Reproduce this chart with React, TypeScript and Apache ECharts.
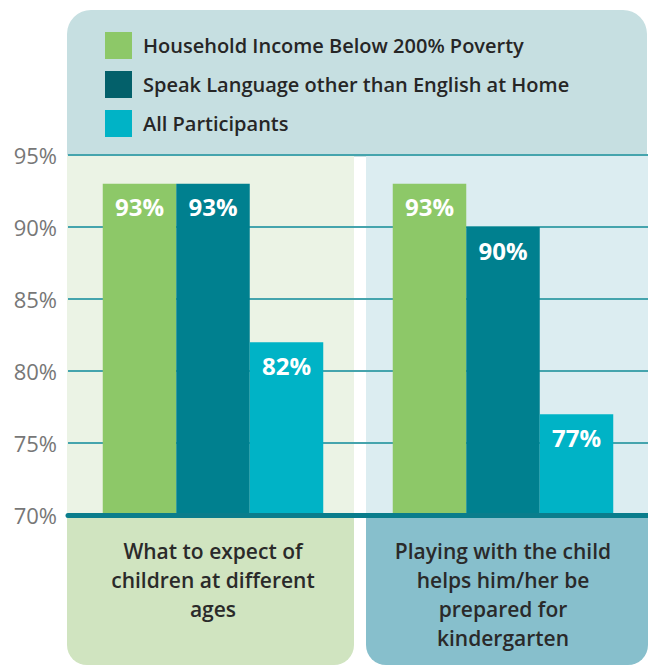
import React, { useEffect, useRef } from "react";
import * as echarts from "echarts";

const categories = [
  "What to expect of\nchildren at different\nages",
  "Playing with the child\nhelps him/her be\nprepared for\nkindergarten",
];
const seriesNames = [
  "Household Income Below 200% Poverty",
  "Speak Language other than English at Home",
  "All Participants",
];
const incomeValues = [93, 93];
const languageValues = [93, 90];
const allValues = [82, 77];
const yTicks = { min: 70, max: 95, interval: 5 };

const barColors = ["#8dc868", "#00808f", "#00b3c6"];
const legendColors = ["#8dc868", "#03606a", "#00b3c6"];
const FONT = "Open Sans";

export default function App() {
  const ref = useRef<HTMLDivElement>(null);
  useEffect(() => {
    if (!ref.current) return;
    const chart = echarts.init(ref.current, undefined, { renderer: "svg" });
    const values = [incomeValues, languageValues, allValues];
    chart.setOption({
      animation: false,
      textStyle: { fontFamily: FONT },
      graphic: [
        { type: "rect", z: -1, shape: { x: 67, y: 10, width: 580, height: 147, r: [24, 24, 0, 0] }, style: { fill: "#c6dfe1" } },
        { type: "rect", z: -1, shape: { x: 67, y: 155, width: 287, height: 360 }, style: { fill: "#ebf3e5" } },
        { type: "rect", z: -1, shape: { x: 366, y: 155, width: 290, height: 360 }, style: { fill: "#dcedf1" } },
        { type: "rect", z: -1, shape: { x: 67, y: 516, width: 287, height: 149, r: [0, 0, 20, 20] }, style: { fill: "#d0e4c0" } },
        { type: "rect", z: -1, shape: { x: 366, y: 516, width: 282, height: 149, r: [0, 0, 20, 20] }, style: { fill: "#87bfcc" } },
      ],
      legend: {
        orient: "vertical",
        left: 105,
        top: 32,
        padding: 0,
        itemWidth: 27,
        itemHeight: 27,
        itemGap: 12,
        icon: "rect",
        selectedMode: false,
        textStyle: { fontFamily: FONT, fontSize: 20, fontWeight: 600, color: "#262626", padding: [0, 0, 0, 6] },
        data: seriesNames.map((n, i) => ({ name: n, itemStyle: { color: legendColors[i] } })),
      },
      grid: { left: 68, right: -4, top: 155, bottom: 151, containLabel: false },
      xAxis: {
        type: "category",
        data: categories,
        z: 3,
        axisLine: { show: true, lineStyle: { color: "#0a7d8c", width: 5 } },
        axisTick: { show: false },
        axisLabel: {
          color: "#2a2a2a",
          fontFamily: FONT,
          fontSize: 21,
          fontWeight: 600,
          lineHeight: 29,
          margin: 21,
          interval: 0,
        },
      },
      yAxis: {
        type: "value",
        min: yTicks.min,
        max: yTicks.max,
        interval: yTicks.interval,
        axisLine: { show: false },
        axisTick: { show: false },
        axisLabel: { formatter: "{value}%", color: "#777777", fontFamily: FONT, fontSize: 22, margin: 11 },
        splitLine: { lineStyle: { color: "#45a4ad", width: 2 } },
      },
      series: seriesNames.map((n, i) => ({
        name: n,
        type: "bar",
        data: values[i],
        barWidth: 73.5,
        barGap: "0%",
        itemStyle: { color: barColors[i] },
        label: {
          show: true,
          position: "insideTop",
          distance: 11,
          formatter: "{c}%",
          color: "#ffffff",
          fontFamily: FONT,
          fontSize: 24,
          fontWeight: "bold",
        },
      })),
    });
    return () => chart.dispose();
  }, []);
  return (
    <div
      ref={ref}
      style={{ position: "fixed", left: 0, top: 0, width: 648, height: 666, background: "#ffffff" }}
    />
  );
}
